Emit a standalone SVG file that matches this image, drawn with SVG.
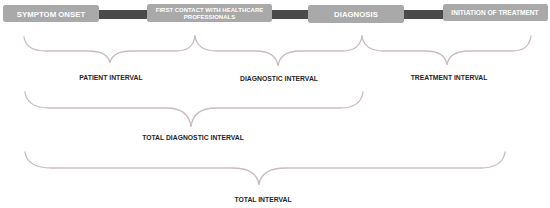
<svg xmlns="http://www.w3.org/2000/svg" width="550" height="208" viewBox="0 0 550 208">
<style>
.box{fill:#a9a9a9}
.bt{fill:#ffffff;font-family:"Liberation Sans",Arial,sans-serif;font-weight:bold;text-anchor:middle}
.br{fill:none;stroke:#cbbcbc;stroke-width:1.3;stroke-linecap:round}
.lb{fill:#262626;font-family:"Liberation Sans",Arial,sans-serif;font-weight:bold;font-size:6.8px;text-anchor:middle}
</style>
<rect width="550" height="208" fill="#ffffff"/>
<g id="connectors">
<rect x="97" y="10" width="352" height="9" fill="#4b4b4b"/>
</g>
<g id="symptom-onset">
<rect class="box" x="3" y="5" width="96" height="17" rx="2.5"/>
<text class="bt" x="51" y="16.8" font-size="7.8">SYMPTOM ONSET</text>
</g>
<g id="first-contact">
<rect class="box" x="147" y="4" width="125" height="18" rx="2.5"/>
<text class="bt" x="209.5" y="11.6" font-size="6">FIRST CONTACT WITH HEALTHCARE</text>
<text class="bt" x="209.5" y="18.6" font-size="6">PROFESSIONALS</text>
</g>
<g id="diagnosis">
<rect class="box" x="308" y="5" width="96" height="18" rx="2.5"/>
<text class="bt" x="356" y="16.8" font-size="7.8">DIAGNOSIS</text>
</g>
<g id="initiation">
<rect class="box" x="443" y="4" width="105" height="17" rx="2.5"/>
<text class="bt" x="495" y="15" font-size="6.6">INITIATION OF TREATMENT</text>
</g>
<g id="patient-interval">
<path class="br" d="M24,37 Q26,51 46,51 L88,51 Q108,51 110,63 Q112,51 132,51 L176,51 Q193,51 195,36"/>
<text class="lb" x="111" y="80">PATIENT INTERVAL</text>
</g>
<g id="diagnostic-interval">
<path class="br" d="M195,36 Q197,51 217,51 L256,51 Q276,51 278,66 Q280,51 300,51 L342,51 Q360,51 362,36"/>
<text class="lb" x="279" y="81">DIAGNOSTIC INTERVAL</text>
</g>
<g id="treatment-interval">
<path class="br" d="M362,36 Q364,51 384,51 L426,51 Q445,51 447,65 Q449,51 469,51 L512,51 Q529,51 531,36"/>
<text class="lb" x="449" y="80">TREATMENT INTERVAL</text>
</g>
<g id="total-diagnostic-interval">
<path class="br" d="M25,92 Q27,108 50,108 L166,108 Q189,108 191,127 Q193,108 216,108 L340,108 Q361,108 363,92"/>
<text class="lb" x="193" y="140">TOTAL DIAGNOSTIC INTERVAL</text>
</g>
<g id="total-interval">
<path class="br" d="M25,152 Q27,168 52,168 L232,168 Q257,168 259,185 Q261,168 286,168 L480,168 Q503,168 505,152"/>
<text class="lb" x="263" y="202">TOTAL INTERVAL</text>
</g>
</svg>
